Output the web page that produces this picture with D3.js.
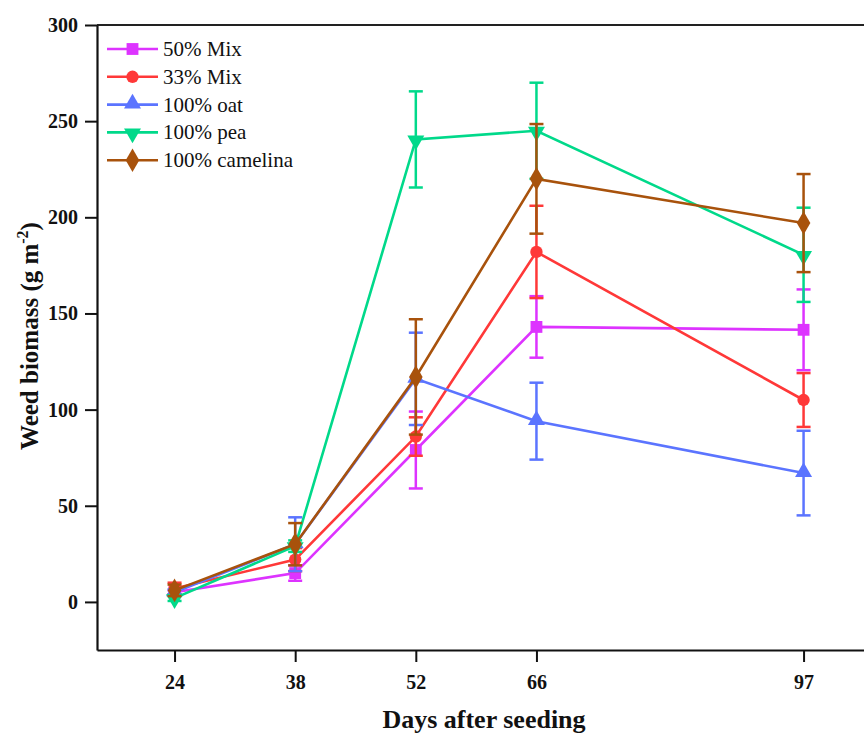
<!DOCTYPE html>
<html>
<head>
<meta charset="utf-8">
<script src="https://cdn.jsdelivr.net/npm/d3@7"></script>
<style>
  html, body { margin: 0; padding: 0; background: #fff; }
  svg { display: block; }
  text { font-family: "Liberation Serif", "Times New Roman", serif; }
</style>
</head>
<body>
<svg id="chart" width="864" height="733"></svg>
<script>
// Sampling days
const days = [24, 38, 52, 66, 97];
const xTicks = [24, 38, 52, 66, 97];
const yTicks = [0, 50, 100, 150, 200, 250, 300];

// Treatments
const seriesNames = ["50% Mix", "33% Mix", "100% oat", "100% pea", "100% camelina"];
const seriesColors = ["#DD33FF", "#FF3838", "#5B74FF", "#00D98A", "#A8520C"];
const seriesSymbols = ["square", "circle", "triangle", "triangleDown", "diamond"];

// Mean weed biomass (g m-2)
const mix50 = [5, 15, 79, 143, 141.5];
const mix33 = [7, 22, 86, 182, 105];
const oat = [5, 30, 116, 94, 67];
const pea = [2, 29, 240.5, 245, 180.5];
const camelina = [6, 30, 117, 220, 197];

// Standard errors
const mix50Err = [1, 4, 20, 16, 21];
const mix33Err = [3, 6, 10, 24, 14];
const oatErr = [1.5, 14, 24, 20, 22];
const peaErr = [1.5, 3, 25, 25, 24.5];
const camelinaErr = [3, 11, 30, 28.5, 25.5];

const seriesValues = [mix50, mix33, oat, pea, camelina];
const seriesErrors = [mix50Err, mix33Err, oatErr, peaErr, camelinaErr];

const svg = d3.select("#chart");

const x = d3.scaleLinear().domain([15, 105]).range([97, 872.5]);
const y = d3.scaleLinear().domain([-25, 300]).range([650, 25]);

// Frame: top border line
svg.append("line")
  .attr("x1", x(15)).attr("x2", 864)
  .attr("y1", y(300)).attr("y2", y(300))
  .attr("stroke", "#222").attr("stroke-width", 2);

// Axes
const xAxis = d3.axisBottom(x).tickValues(xTicks).tickSize(12).tickPadding(13).tickSizeOuter(0);
const yAxis = d3.axisLeft(y).tickValues(yTicks).tickSize(12).tickPadding(7).tickSizeOuter(0);

const gx = svg.append("g").attr("transform", `translate(0,${y(-25)})`).call(xAxis);
const gy = svg.append("g").attr("transform", `translate(${x(15)},0)`).call(yAxis);

[gx, gy].forEach(g => {
  g.select(".domain").attr("stroke", "#111").attr("stroke-width", 2.2);
  g.selectAll(".tick line").attr("stroke", "#111").attr("stroke-width", 2);
  g.selectAll(".tick text")
    .attr("fill", "#111")
    .attr("font-family", "'Liberation Serif', serif")
    .attr("font-weight", "bold")
    .attr("font-size", 20);
});

// Axis titles
svg.append("text")
  .attr("x", 484).attr("y", 728)
  .attr("text-anchor", "middle")
  .attr("font-weight", "bold")
  .attr("font-size", 26)
  .attr("fill", "#111")
  .text("Days after seeding");

const yTitle = svg.append("text")
  .attr("transform", "translate(38,336) rotate(-90)")
  .attr("text-anchor", "middle")
  .attr("font-weight", "bold")
  .attr("font-size", 25)
  .attr("fill", "#111");
yTitle.append("tspan").text("Weed biomass (g m");
yTitle.append("tspan").attr("dy", -10).attr("font-size", 16).text("-2");
yTitle.append("tspan").attr("dy", 10).text(")");

// Marker shapes
const symbolTypes = {
  square: d3.symbolSquare,
  circle: d3.symbolCircle,
  triangle: d3.symbolTriangle,
  triangleDown: d3.symbolTriangle,
  diamond: d3.symbolDiamond
};
const symbolSizes = { square: 140, circle: 120, triangle: 125, triangleDown: 125, diamond: 160 };

function drawMarker(g, kind, color, cx, cy) {
  const rot = kind === "triangleDown" ? 180 : 0;
  const dy = kind === "triangle" ? -1 : (kind === "triangleDown" ? 1 : 0);
  g.append("path")
    .attr("d", d3.symbol().type(symbolTypes[kind]).size(symbolSizes[kind])())
    .attr("transform", `translate(${cx},${cy + dy}) rotate(${rot})`)
    .attr("fill", color);
}

const line = d3.line().x(d => x(d[0])).y(d => y(d[1]));
const capHalf = 7;

seriesNames.forEach((name, i) => {
  const color = seriesColors[i];
  const pts = days.map((d, j) => [d, seriesValues[i][j], seriesErrors[i][j]]);
  const g = svg.append("g");

  // Error bars
  pts.forEach(([d, v, e]) => {
    const cx = x(d);
    g.append("line")
      .attr("x1", cx).attr("x2", cx)
      .attr("y1", y(v - e)).attr("y2", y(v + e))
      .attr("stroke", color).attr("stroke-width", 2.5);
    [v - e, v + e].forEach(c => {
      g.append("line")
        .attr("x1", cx - capHalf).attr("x2", cx + capHalf)
        .attr("y1", y(c)).attr("y2", y(c))
        .attr("stroke", color).attr("stroke-width", 2.5);
    });
  });

  // Connecting line
  g.append("path")
    .datum(pts)
    .attr("d", line)
    .attr("fill", "none")
    .attr("stroke", color)
    .attr("stroke-width", 2.6);

  // Markers
  pts.forEach(([d, v]) => drawMarker(g, seriesSymbols[i], color, x(d), y(v)));
});

// Legend
const legend = svg.append("g");
seriesNames.forEach((name, i) => {
  const ly = 49 + i * 27.8;
  const color = seriesColors[i];
  legend.append("line")
    .attr("x1", 107).attr("x2", 158)
    .attr("y1", ly).attr("y2", ly)
    .attr("stroke", color).attr("stroke-width", 2.6);
  drawMarker(legend, seriesSymbols[i], color, 132.5, ly);
  legend.append("text")
    .attr("x", 163).attr("y", ly + 7)
    .attr("font-size", 21)
    .attr("fill", "#111")
    .text(name);
});
</script>
</body>
</html>
